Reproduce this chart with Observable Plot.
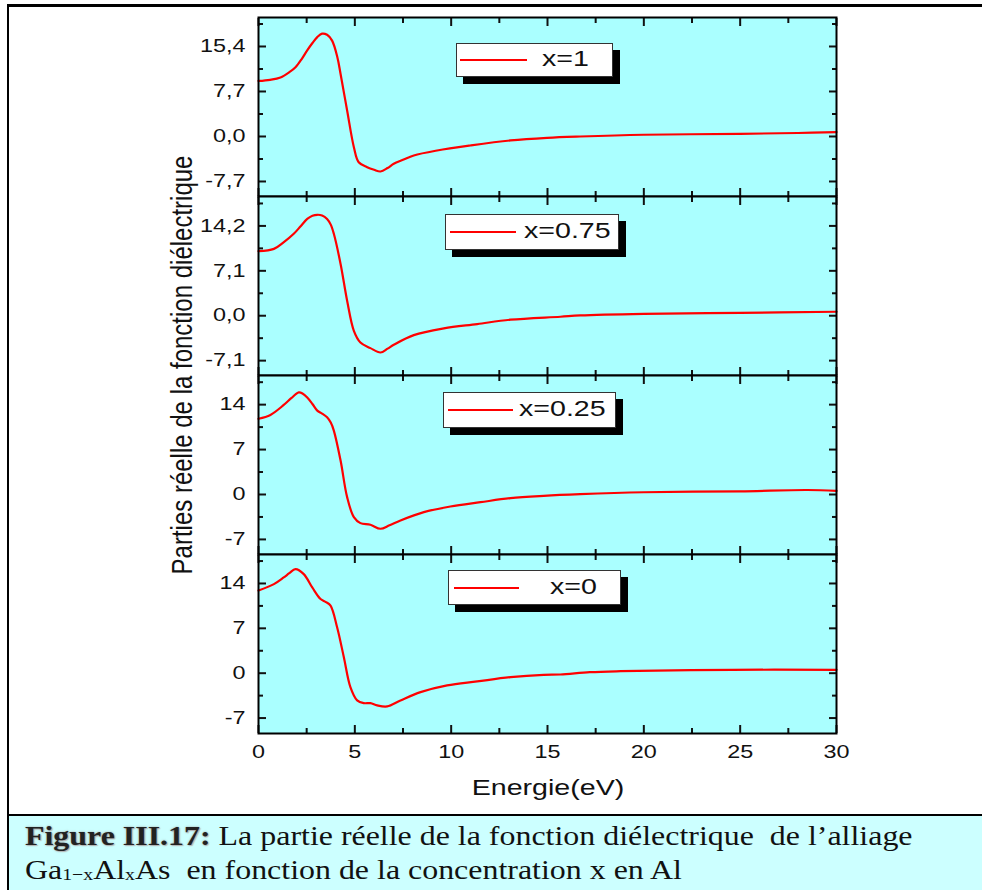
<!DOCTYPE html>
<html>
<head>
<meta charset="utf-8">
<script src="https://cdn.jsdelivr.net/npm/d3@7"></script>
<script src="https://cdn.jsdelivr.net/npm/@observablehq/plot@0.6"></script>
<style>
  html, body { margin: 0; padding: 0; background: #fff; }
  #page { position: relative; width: 982px; height: 890px; overflow: hidden; background: #fff; }
  #outer { position: absolute; left: 7px; top: 4px; width: 1100px; height: 1000px;
           border-left: 2px solid #000; border-top: 3px solid #000; }
  #caption { position: absolute; left: 9px; top: 814px; width: 1100px; height: 100px;
             background: #ccffff; border-top: 2.5px solid #000; }
  .cap { position: absolute; left: 25px; white-space: pre; font-family: "Liberation Serif", "Times New Roman", serif;
         font-size: 28px; line-height: 34px; color: #111; transform-origin: left center; transform: scaleX(1.14); }
  .cap b { text-shadow: 0 0 2px #999, 1px 1px 1px #bbb; color: #222; }
  .sub { font-size: 0.62em; vertical-align: -0.05em; }
  .panel { position: absolute; left: 0; }
  .title { position: absolute; white-space: nowrap; font-family: "Liberation Sans", Arial, sans-serif;
           line-height: 1; color: #111; }
  .legend { position: absolute; background: #fff; border: 1px solid #333; box-shadow: 7px 7px 0 #000; }
  .legend .sample { position: absolute; height: 2px; background: #ff0000; }
  .legend .lab { position: absolute; font-family: "Liberation Sans", Arial, sans-serif; font-size: 22px;
                 line-height: 1; white-space: nowrap; transform-origin: left center; transform: scaleX(1.3); color: #111; }
</style>
</head>
<body>
<div id="page">
  <div id="outer"></div>
  <div id="caption"></div>
  <div id="charts"></div>
</div>
<script>
// Real part of the dielectric function ε1(E) of Ga(1-x)Al(x)As, one panel per composition.
const energyX100 = [0, 0.6, 1.14, 1.6, 1.92, 2.25, 2.52, 2.8, 3.05, 3.3, 3.56, 3.82, 4.09, 4.26, 4.6, 4.95, 5.2, 5.64, 6.0, 6.33, 6.7, 7.02, 7.5, 8.06, 9.27, 11.0, 13.08, 14.98, 16.7, 20, 25, 28, 30];
const eps1X100   = [9.5, 9.7, 10.1, 11.0, 11.86, 13.3, 14.7, 16.0, 17.0, 17.6, 17.4, 16.4, 13.6, 10.7, 4.45, -1.83, -4.4, -5.25, -5.7, -5.99, -5.4, -4.67, -4.0, -3.25, -2.4, -1.54, -0.68, -0.23, 0.0, 0.3, 0.45, 0.6, 0.75];

const energyX075 = [0, 0.8, 1.3, 1.83, 2.2, 2.53, 2.8, 3.05, 3.3, 3.56, 3.75, 3.91, 4.26, 4.6, 4.95, 5.29, 5.81, 6.33, 6.7, 7.02, 8.06, 9.62, 11.35, 13.08, 15.67, 16.7, 20, 25, 30];
const eps1X075   = [10.2, 10.57, 11.6, 12.95, 14.2, 15.3, 15.8, 15.96, 15.85, 15.3, 14.4, 12.95, 8.19, 2.38, -2.38, -4.23, -5.12, -5.81, -5.2, -4.6, -3.07, -2.0, -1.32, -0.63, -0.16, 0.05, 0.3, 0.45, 0.63];

const energyX025 = [0, 0.62, 1.31, 1.7, 2.09, 2.3, 2.53, 2.8, 3.05, 3.3, 3.56, 3.75, 3.91, 4.26, 4.6, 4.95, 5.29, 5.81, 6.33, 6.8, 7.37, 8.58, 9.96, 11.52, 13.08, 14.8, 16.7, 20, 25, 28.5, 30];
const eps1X025   = [11.8, 12.4, 13.95, 15.0, 15.9, 15.7, 15.1, 14.1, 13.07, 12.6, 12.03, 11.2, 9.96, 5.29, -0.41, -3.53, -4.46, -4.72, -5.34, -4.8, -4.05, -2.75, -1.87, -1.2, -0.57, -0.21, 0.05, 0.35, 0.5, 0.7, 0.55];

const energyX000 = [0, 0.8, 1.31, 1.6, 1.92, 2.35, 2.79, 3.22, 3.5, 3.74, 4.08, 4.43, 4.77, 5.12, 5.46, 5.81, 6.16, 6.68, 7.37, 8.41, 9.79, 11.35, 13.08, 14.8, 15.67, 17.2, 18.8, 24.6, 30];
const eps1X000   = [12.9, 13.9, 14.94, 15.6, 16.24, 15.46, 13.38, 11.57, 11.1, 10.53, 7.16, 2.49, -2.18, -4.25, -4.67, -4.67, -5.02, -5.18, -4.25, -2.96, -1.91, -1.29, -0.62, -0.25, -0.2, 0.16, 0.31, 0.53, 0.53];

const legendLabels = ["x=1", "x=0.75", "x=0.25", "x=0"];

// Axis ticks
const energyDomain = [0, 30];
const energyMajorTicks = [0, 5, 10, 15, 20, 25, 30];
const energyMinorTicks = [2.5, 7.5, 12.5, 17.5, 22.5, 27.5];

const yDomainX100 = [-10.27, 20.36];
const yMajorX100 = [-7.7, 0, 7.7, 15.4];
const yMinorX100 = [-3.85, 3.85, 11.55, 19.25];
const yLabelsX100 = ["-7,7", "0,0", "7,7", "15,4"];

const yDomainX075 = [-9.45, 18.85];
const yMajorX075 = [-7.1, 0, 7.1, 14.2];
const yMinorX075 = [-3.55, 3.55, 10.65, 17.75];
const yLabelsX075 = ["-7,1", "0,0", "7,1", "14,2"];

const yDomainX025 = [-9.35, 18.54];
const yMajorX025 = [-7, 0, 7, 14];
const yMinorX025 = [-3.5, 3.5, 10.5, 17.5];
const yLabelsX025 = ["-7", "0", "7", "14"];

const yDomainX000 = [-9.41, 18.52];
const yMajorX000 = [-7, 0, 7, 14];
const yMinorX000 = [-3.5, 3.5, 10.5, 17.5];
const yLabelsX000 = ["-7", "0", "7", "14"];

const xAxisTitle = "Energie(eV)";
const yAxisTitle = "Parties réelle de la fonction diélectrique";

// ---- layout ----
const BG = "#aaffff";
const PANEL_TOPS = [17, 196, 375, 554];
const PANEL_H = 179;
const TEXT_STRETCH = 1.3;

const panels = [
  {e: energyX100, v: eps1X100, domain: yDomainX100, major: yMajorX100, minor: yMinorX100, labels: yLabelsX100},
  {e: energyX075, v: eps1X075, domain: yDomainX075, major: yMajorX075, minor: yMinorX075, labels: yLabelsX075},
  {e: energyX025, v: eps1X025, domain: yDomainX025, major: yMajorX025, minor: yMinorX025, labels: yLabelsX025},
  {e: energyX000, v: eps1X000, domain: yDomainX000, major: yMajorX000, minor: yMinorX000, labels: yLabelsX000}
];

const legendBoxes = [
  {left: 456, top: 43, w: 155, h: 32, l0: 3, l1: 70, tx: 85},
  {left: 445, top: 214, w: 172, h: 34, l0: 4, l1: 70, tx: 78},
  {left: 443, top: 392, w: 171, h: 34, l0: 4, l1: 69, tx: 75},
  {left: 448, top: 570, w: 171, h: 33, l0: 5, l1: 70, tx: 101}
];

// Widen each SVG label horizontally around its anchor point.
function widenText(svg, k) {
  svg.querySelectorAll("text").forEach((t) => {
    const g = document.createElementNS("http://www.w3.org/2000/svg", "g");
    t.parentNode.insertBefore(g, t);
    g.appendChild(t);
    const b = g.getBBox();
    const anchor = getComputedStyle(t).textAnchor;
    const cx = anchor === "end" ? b.x + b.width : anchor === "middle" ? b.x + b.width / 2 : b.x;
    g.setAttribute("transform", `translate(${cx},0) scale(${k},1) translate(${-cx},0)`);
  });
}

const charts = document.getElementById("charts");
const tickStyle = {strokeWidth: 2, fill: "none", label: null};

panels.forEach((p, i) => {
  const last = i === panels.length - 1;
  const rows = p.e.map((e, j) => ({e, v: p.v[j]}));
  const marginBottom = last ? 40 : 1;
  const fmt = (d) => p.labels[p.major.indexOf(d)];
  const svg = Plot.plot({
    width: 982,
    height: PANEL_H + 1 + marginBottom,
    marginLeft: 258,
    marginRight: 146,
    marginTop: 1,
    marginBottom,
    x: {domain: energyDomain},
    y: {domain: p.domain},
    style: {fontFamily: "'Liberation Sans', Arial, sans-serif", fontSize: "18px", color: "#111",
            background: "transparent", overflow: "visible"},
    marks: [
      Plot.frame({fill: BG, stroke: null}),
      Plot.line(rows, {x: "e", y: "v", stroke: "#ff0000", strokeWidth: 2.2, curve: "catmull-rom"}),
      Plot.axisX(energyMajorTicks, {anchor: "bottom", tickSize: -8, ...tickStyle}),
      Plot.axisX(energyMajorTicks, {anchor: "top", tickSize: -8, ...tickStyle}),
      Plot.axisX(energyMinorTicks, {anchor: "bottom", tickSize: -5, ...tickStyle}),
      Plot.axisX(energyMinorTicks, {anchor: "top", tickSize: -5, ...tickStyle}),
      Plot.axisY(p.major, {anchor: "left", tickSize: -8, ...tickStyle}),
      Plot.axisY(p.major, {anchor: "right", tickSize: -8, ...tickStyle}),
      Plot.axisY(p.minor, {anchor: "left", tickSize: -5, ...tickStyle}),
      Plot.axisY(p.minor, {anchor: "right", tickSize: -5, ...tickStyle}),
      Plot.axisY(p.major, {anchor: "left", tickSize: 0, tickPadding: 13, tickFormat: fmt, label: null}),
      last ? Plot.axisX(energyMajorTicks, {anchor: "bottom", tickSize: 0, tickPadding: 12, label: null}) : null,
      Plot.frame({stroke: "#000", strokeWidth: 2})
    ]
  });
  svg.classList.add("panel");
  svg.style.top = (PANEL_TOPS[i] - 1) + "px";
  charts.appendChild(svg);
  widenText(svg, TEXT_STRETCH);

  // legend box
  const lb = legendBoxes[i];
  const box = document.createElement("div");
  box.className = "legend";
  Object.assign(box.style, {left: lb.left + "px", top: lb.top + "px", width: lb.w + "px", height: lb.h + "px"});
  const sample = document.createElement("div");
  sample.className = "sample";
  Object.assign(sample.style, {left: lb.l0 + "px", width: (lb.l1 - lb.l0) + "px", top: (lb.h / 2 - 1) + "px"});
  const lab = document.createElement("div");
  lab.className = "lab";
  lab.textContent = legendLabels[i];
  Object.assign(lab.style, {left: lb.tx + "px", top: (lb.h / 2 - 12) + "px"});
  box.appendChild(sample);
  box.appendChild(lab);
  charts.appendChild(box);
});

// Axis titles
const xt = document.createElement("div");
xt.className = "title";
xt.textContent = xAxisTitle;
Object.assign(xt.style, {left: "548px", top: "788px", fontSize: "22px", transform: `translate(-50%,-50%) scaleX(${TEXT_STRETCH})`});
charts.appendChild(xt);

const yt = document.createElement("div");
yt.className = "title";
yt.textContent = yAxisTitle;
Object.assign(yt.style, {left: "182px", top: "365px", fontSize: "24px", transform: "translate(-50%,-50%) scaleX(1.25) rotate(-90deg)"});
charts.appendChild(yt);

// Figure caption
const page = document.getElementById("page");
const line1 = document.createElement("div");
line1.className = "cap";
line1.style.top = "819px";
line1.innerHTML = "<b>Figure III.17:</b> La partie réelle de la fonction diélectrique&nbsp; de l’alliage";
const line2 = document.createElement("div");
line2.className = "cap";
line2.style.top = "853px";
line2.innerHTML = "Ga<span class=\"sub\">1−x</span>Al<span class=\"sub\">x</span>As&nbsp; en fonction de la concentration x en Al";
page.appendChild(line1);
page.appendChild(line2);
</script>
</body>
</html>
